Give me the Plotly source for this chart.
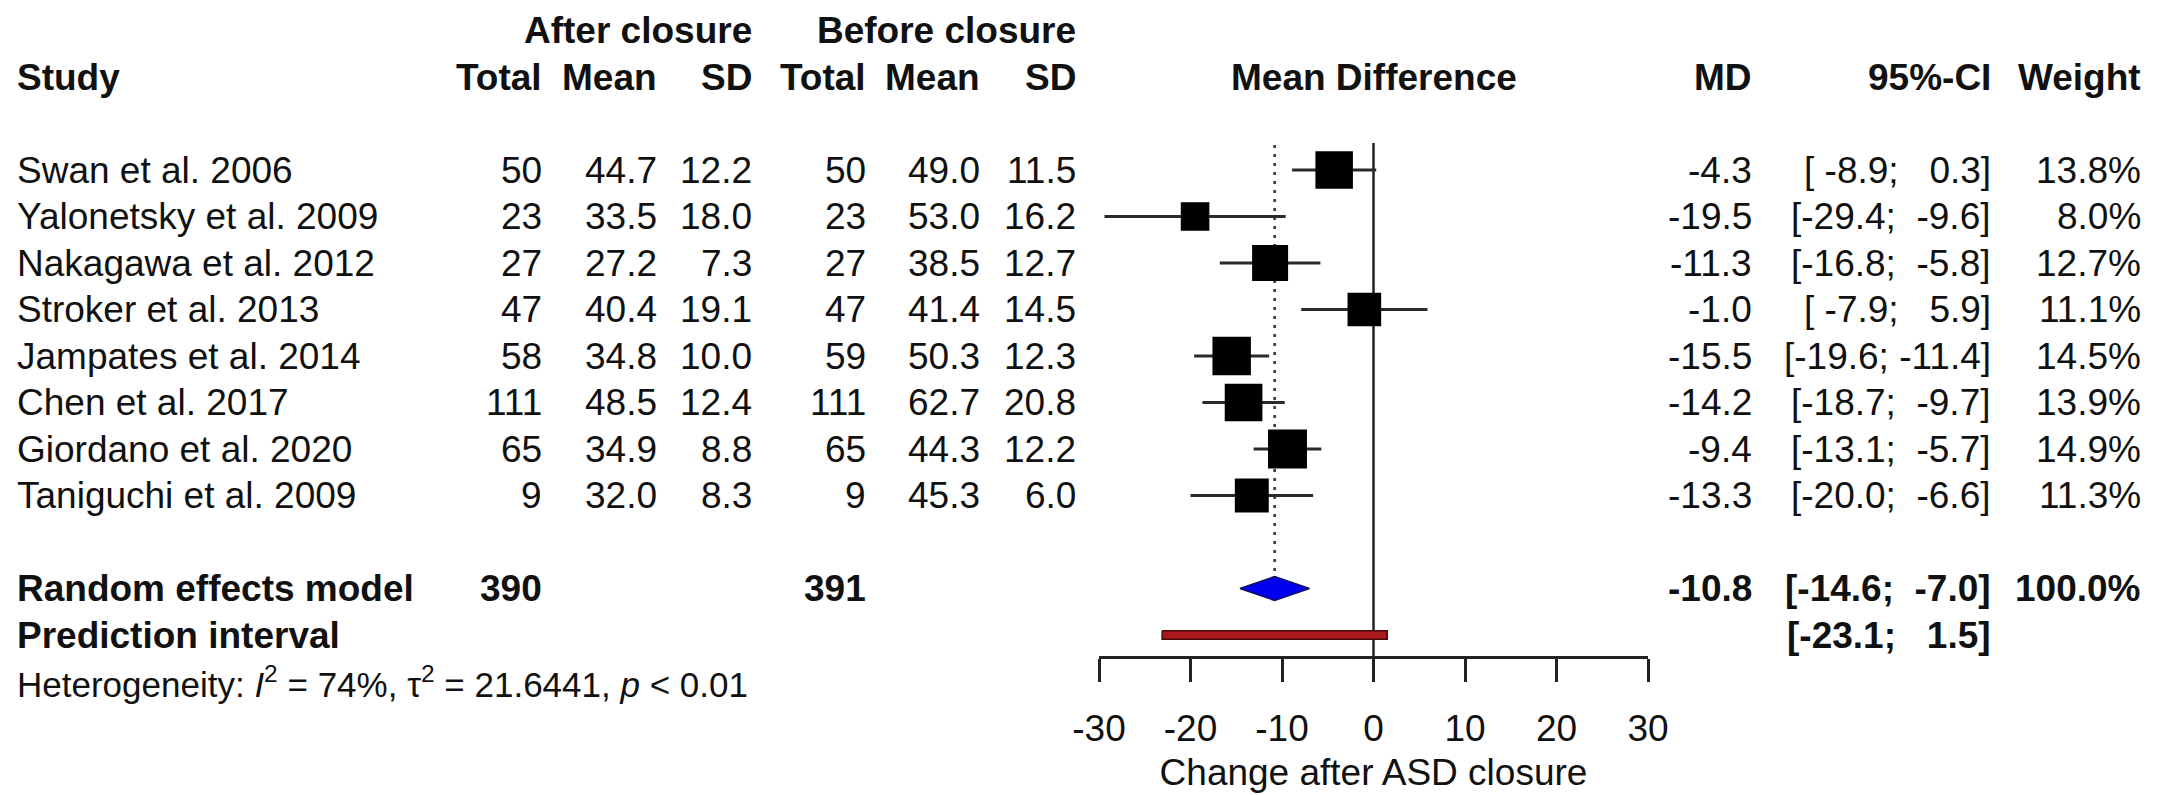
import math
import plotly.graph_objects as go

# ---------------- data ----------------
studies = ["Swan et al. 2006", "Yalonetsky et al. 2009", "Nakagawa et al. 2012",
           "Stroker et al. 2013", "Jampates et al. 2014", "Chen et al. 2017",
           "Giordano et al. 2020", "Taniguchi et al. 2009"]
after_total = [50, 23, 27, 47, 58, 111, 65, 9]
after_mean = [44.7, 33.5, 27.2, 40.4, 34.8, 48.5, 34.9, 32.0]
after_sd = [12.2, 18.0, 7.3, 19.1, 10.0, 12.4, 8.8, 8.3]
before_total = [50, 23, 27, 47, 59, 111, 65, 9]
before_mean = [49.0, 53.0, 38.5, 41.4, 50.3, 62.7, 44.3, 45.3]
before_sd = [11.5, 16.2, 12.7, 14.5, 12.3, 20.8, 12.2, 6.0]
md = [-4.3, -19.5, -11.3, -1.0, -15.5, -14.2, -9.4, -13.3]
ci_lo = [-8.9, -29.4, -16.8, -7.9, -19.6, -18.7, -13.1, -20.0]
ci_hi = [0.3, -9.6, -5.8, 5.9, -11.4, -9.7, -5.7, -6.6]
weight = [13.8, 8.0, 12.7, 11.1, 14.5, 13.9, 14.9, 11.3]

re_label = "Random effects model"
re_total_after = 390
re_total_before = 391
re_md = -10.8
re_lo = -14.6
re_hi = -7.0
re_weight = 100.0
pi_label = "Prediction interval"
pi_lo = -23.1
pi_hi = 1.5
het_i2 = "74%"
het_tau2 = "21.6441"
het_p = "< 0.01"

x_ticks = [-30, -20, -10, 0, 10, 20, 30]
x_title = "Change after ASD closure"

# ---------------- geometry ----------------
W, H = 2171, 795
L, R = 1099, 523
PW = W - L - R
ROW0_PX = 170.0
ROW_H = 46.5
AXIS_PX = 657.0
FONT = "Liberation Sans, Arial, Helvetica, sans-serif"
FS = 37
INK = "#111111"


def px2paper(px):
    return (px - L) / PW


def px2row(py):
    return 1 + (py - ROW0_PX) / ROW_H


n = len(studies)
rows = list(range(1, n + 1))
row_re = n + 2
row_pi = n + 3
row_het = n + 4
row_head = -1
row_group = -2

fig = go.Figure()

# vertical reference line at 0
fig.add_trace(go.Scatter(x=[0, 0], y=[px2row(143), px2row(AXIS_PX)], mode="lines",
                         line=dict(color="#222222", width=2.5), hoverinfo="skip"))
# dotted line at pooled estimate
dh = 12 / ROW_H
fig.add_trace(go.Scatter(x=[re_md, re_md], y=[px2row(145), row_re - dh], mode="lines",
                         line=dict(color="#444444", width=2.8, dash="3px,6px"), hoverinfo="skip"))

# CI lines
cx, cy = [], []
for r, lo, hi in zip(rows, ci_lo, ci_hi):
    cx += [lo, hi, None]
    cy += [r, r, None]
fig.add_trace(go.Scatter(x=cx, y=cy, mode="lines", line=dict(color="#2a2a2a", width=2.8),
                         hoverinfo="skip"))

# squares
fig.add_trace(go.Scatter(x=md, y=rows, mode="markers",
                         marker=dict(symbol="square", color="black", opacity=1,
                                     size=[10.1 * math.sqrt(w) for w in weight],
                                     line=dict(width=0)),
                         hoverinfo="skip"))

# diamond
fig.add_trace(go.Scatter(x=[re_lo, re_md, re_hi, re_md, re_lo],
                         y=[row_re, row_re - dh, row_re, row_re + dh, row_re],
                         mode="lines", fill="toself", fillcolor="#0000ee",
                         line=dict(color="#101060", width=1.5), hoverinfo="skip"))

# prediction interval bar
ph = 4.2 / ROW_H
fig.add_trace(go.Scatter(x=[pi_lo, pi_hi, pi_hi, pi_lo, pi_lo],
                         y=[row_pi - ph, row_pi - ph, row_pi + ph, row_pi + ph, row_pi - ph],
                         mode="lines", fill="toself", fillcolor="#a8191e",
                         line=dict(color="#4a0a0a", width=1.5), hoverinfo="skip"))

# ---------------- text ----------------
ann = []


def txt(s, px, row, anchor="right", bold=False, size=FS):
    if bold:
        s = "<b>" + s + "</b>"
    ann.append(dict(text=s, x=px2paper(px), y=row, xref="paper", yref="y",
                    xanchor=anchor, yanchor="middle", showarrow=False,
                    font=dict(family=FONT, size=size, color=INK)))


def fmt_ci(lo, hi, wl, wh):
    a = f"{lo:.1f}".rjust(wl)
    b = f"{hi:.1f}".rjust(wh)
    return ("[" + a + "; " + b + "]").replace(" ", "\u00a0")


COLS = dict(study=15, at=544, am=659, asd=754, bt=868, bm=982, bsd=1078,
            md=1754, ci=1993, w=2143)

# headers
txt("After closure", COLS["asd"], row_group, bold=True)
txt("Before closure", COLS["bsd"], row_group, bold=True)
txt("Study", COLS["study"], row_head, anchor="left", bold=True)
for key, lab in [("at", "Total"), ("am", "Mean"), ("asd", "SD"),
                 ("bt", "Total"), ("bm", "Mean"), ("bsd", "SD"),
                 ("md", "MD"), ("ci", "95%-CI"), ("w", "Weight")]:
    txt(lab, COLS[key], row_head, bold=True)
ann.append(dict(text="<b>Mean Difference</b>", x=0.5, y=row_head, xref="paper", yref="y",
                xanchor="center", yanchor="middle", showarrow=False,
                font=dict(family=FONT, size=FS, color=INK)))

wl = max(len(f"{v:.1f}") for v in ci_lo + [re_lo, pi_lo])
wh = max(len(f"{v:.1f}") for v in ci_hi + [re_hi, pi_hi])
for i, r in enumerate(rows):
    txt(studies[i], COLS["study"], r, anchor="left")
    txt(str(after_total[i]), COLS["at"], r)
    txt(f"{after_mean[i]:.1f}", COLS["am"], r)
    txt(f"{after_sd[i]:.1f}", COLS["asd"], r)
    txt(str(before_total[i]), COLS["bt"], r)
    txt(f"{before_mean[i]:.1f}", COLS["bm"], r)
    txt(f"{before_sd[i]:.1f}", COLS["bsd"], r)
    txt(f"{md[i]:.1f}", COLS["md"], r)
    txt(fmt_ci(ci_lo[i], ci_hi[i], wl, wh), COLS["ci"], r)
    txt(f"{weight[i]:.1f}%", COLS["w"], r)

txt(re_label, COLS["study"], row_re, anchor="left", bold=True)
txt(str(re_total_after), COLS["at"], row_re, bold=True)
txt(str(re_total_before), COLS["bt"], row_re, bold=True)
txt(f"{re_md:.1f}", COLS["md"], row_re, bold=True)
txt(fmt_ci(re_lo, re_hi, wl, wh), COLS["ci"], row_re, bold=True)
txt(f"{re_weight:.1f}%", COLS["w"], row_re, bold=True)
txt(pi_label, COLS["study"], row_pi, anchor="left", bold=True)
txt(fmt_ci(pi_lo, pi_hi, wl, wh), COLS["ci"], row_pi, bold=True)
txt(f"Heterogeneity: <i>I</i><sup>2</sup> = {het_i2}, \u03c4<sup>2</sup> = {het_tau2}, "
    f"<i>p</i> {het_p}", COLS["study"], row_het, anchor="left", size=35)

fig.update_layout(
    width=W, height=H,
    margin=dict(l=L, r=R, t=0, b=0, pad=0),
    paper_bgcolor="white", plot_bgcolor="white",
    showlegend=False,
    annotations=ann,
    font=dict(family=FONT, size=FS, color=INK),
    xaxis=dict(range=[-30, 30], tickvals=x_ticks, ticktext=[str(t) for t in x_ticks],
               anchor="free", position=1 - AXIS_PX / H, side="bottom",
               showline=True, linewidth=2.5, linecolor="#222222",
               ticks="outside", ticklen=23, tickwidth=2.5, tickcolor="#222222",
               showgrid=False, zeroline=False, ticklabelstandoff=15,
               tickfont=dict(family=FONT, size=FS, color=INK),
               title=dict(text=x_title, standoff=10,
                          font=dict(family=FONT, size=FS, color=INK))),
    yaxis=dict(range=[px2row(H), px2row(0)], visible=False, showgrid=False, zeroline=False),
)

fig.write_html("out.html")
